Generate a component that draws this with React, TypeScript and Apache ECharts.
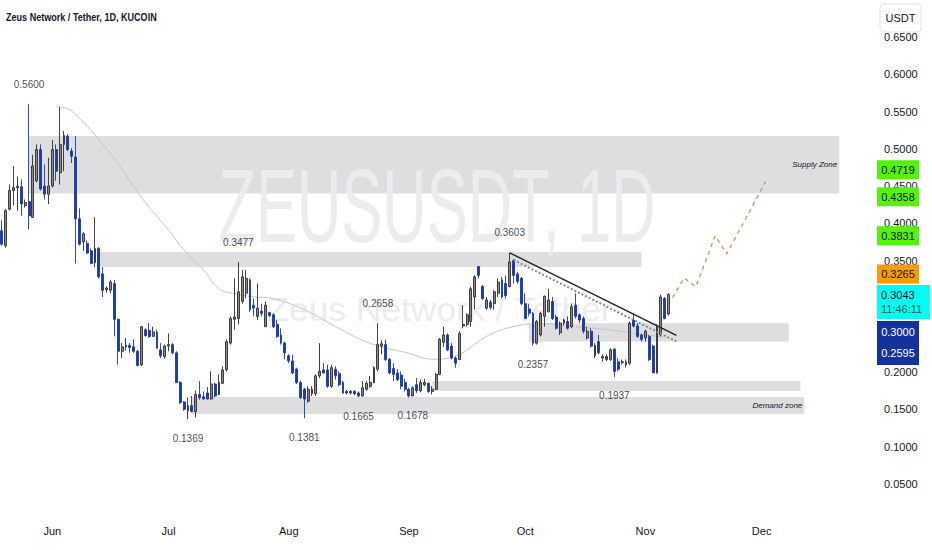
import React, { useEffect, useRef } from 'react';
import * as echarts from 'echarts';

// ---- categories (daily, 2024-05-19 .. ) ----
const START_UTC = Date.UTC(2024, 4, 19);
const DAY_COUNT = 226;
const MONTH_NAMES = ['Jan', 'Feb', 'Mar', 'Apr', 'May', 'Jun', 'Jul', 'Aug', 'Sep', 'Oct', 'Nov', 'Dec'];
const dates: string[] = [];
for (let i = 0; i < DAY_COUNT; i++) dates.push(new Date(START_UTC + i * 86400000).toISOString().slice(0, 10));

// ---- OHLC ----
const opens = [
  0.390, 0.370, 0.419, 0.444, 0.448, 0.449, 0.424, 0.429, 0.408, 0.457,
  0.499, 0.450, 0.439, 0.450, 0.499, 0.468, 0.506, 0.517, 0.497, 0.489,
  0.406, 0.375, 0.373, 0.363, 0.347, 0.366, 0.332, 0.311, 0.310, 0.319,
  0.271, 0.228, 0.234, 0.236, 0.234, 0.228, 0.210, 0.257, 0.256, 0.248,
  0.254, 0.230, 0.221, 0.235, 0.237, 0.226, 0.186, 0.160, 0.148, 0.155,
  0.147, 0.170, 0.167, 0.172, 0.164, 0.184, 0.170, 0.185, 0.203, 0.239,
  0.271, 0.272, 0.295, 0.306, 0.324, 0.290, 0.275, 0.282, 0.261, 0.280,
  0.277, 0.264, 0.250, 0.239, 0.222, 0.215, 0.204, 0.186, 0.177, 0.161,
  0.171, 0.171, 0.195, 0.203, 0.203, 0.181, 0.204, 0.198, 0.186, 0.174,
  0.172, 0.174, 0.172, 0.168, 0.177, 0.181, 0.186, 0.204, 0.235, 0.237,
  0.217, 0.205, 0.199, 0.196, 0.186, 0.177, 0.168, 0.183, 0.175, 0.183,
  0.185, 0.174, 0.177, 0.197, 0.240, 0.250, 0.235, 0.219, 0.217, 0.262,
  0.264, 0.268, 0.301, 0.342, 0.315, 0.286, 0.294, 0.292, 0.306, 0.324,
  0.319, 0.315, 0.350, 0.332, 0.326, 0.292, 0.285, 0.279, 0.239, 0.250,
  0.275, 0.281, 0.295, 0.274, 0.253, 0.266, 0.268, 0.261, 0.290, 0.277,
  0.272, 0.246, 0.255, 0.222, 0.241, 0.219, 0.221, 0.217, 0.231, 0.214,
  0.213, 0.214, 0.212, 0.270, 0.262, 0.250, 0.246, 0.248, 0.235, 0.199,
  0.250, 0.299, 0.278,
];
const closes = [
  0.372, 0.417, 0.444, 0.448, 0.450, 0.426, 0.428, 0.410, 0.477, 0.499,
  0.446, 0.439, 0.450, 0.499, 0.470, 0.506, 0.518, 0.499, 0.490, 0.406,
  0.372, 0.386, 0.360, 0.346, 0.366, 0.328, 0.310, 0.313, 0.321, 0.271,
  0.228, 0.234, 0.236, 0.233, 0.228, 0.209, 0.261, 0.249, 0.248, 0.254,
  0.232, 0.222, 0.235, 0.237, 0.226, 0.186, 0.159, 0.150, 0.155, 0.147,
  0.170, 0.166, 0.164, 0.164, 0.184, 0.168, 0.186, 0.203, 0.241, 0.272,
  0.274, 0.308, 0.328, 0.326, 0.284, 0.286, 0.286, 0.279, 0.290, 0.276,
  0.261, 0.248, 0.239, 0.226, 0.215, 0.199, 0.186, 0.166, 0.164, 0.177,
  0.177, 0.195, 0.201, 0.199, 0.181, 0.206, 0.195, 0.183, 0.172, 0.172,
  0.174, 0.171, 0.168, 0.179, 0.185, 0.186, 0.206, 0.237, 0.238, 0.217,
  0.199, 0.197, 0.190, 0.181, 0.177, 0.168, 0.179, 0.175, 0.186, 0.186,
  0.174, 0.177, 0.197, 0.244, 0.250, 0.230, 0.219, 0.212, 0.252, 0.264,
  0.277, 0.312, 0.328, 0.330, 0.299, 0.297, 0.287, 0.308, 0.321, 0.301,
  0.303, 0.348, 0.330, 0.322, 0.292, 0.272, 0.279, 0.239, 0.268, 0.279,
  0.302, 0.297, 0.272, 0.259, 0.266, 0.270, 0.259, 0.288, 0.275, 0.270,
  0.255, 0.255, 0.235, 0.236, 0.226, 0.221, 0.217, 0.230, 0.201, 0.204,
  0.214, 0.210, 0.266, 0.262, 0.248, 0.244, 0.255, 0.217, 0.199, 0.261,
  0.301, 0.272, 0.3043,
];
const lows = [
  0.370, 0.367, 0.417, 0.424, 0.417, 0.410, 0.421, 0.392, 0.407, 0.455,
  0.444, 0.432, 0.426, 0.448, 0.457, 0.452, 0.470, 0.497, 0.481, 0.346,
  0.370, 0.363, 0.359, 0.345, 0.341, 0.326, 0.301, 0.307, 0.306, 0.248,
  0.210, 0.219, 0.229, 0.226, 0.226, 0.208, 0.208, 0.248, 0.246, 0.248,
  0.232, 0.219, 0.218, 0.228, 0.224, 0.186, 0.157, 0.148, 0.1369, 0.146,
  0.139, 0.163, 0.163, 0.163, 0.163, 0.166, 0.169, 0.184, 0.201, 0.237,
  0.257, 0.264, 0.292, 0.299, 0.281, 0.275, 0.270, 0.275, 0.261, 0.274,
  0.259, 0.246, 0.237, 0.217, 0.212, 0.197, 0.184, 0.164, 0.1381, 0.159,
  0.168, 0.168, 0.192, 0.198, 0.179, 0.179, 0.190, 0.181, 0.171, 0.170,
  0.170, 0.169, 0.1665, 0.167, 0.175, 0.179, 0.185, 0.201, 0.224, 0.215,
  0.197, 0.188, 0.188, 0.177, 0.174, 0.166, 0.1678, 0.172, 0.173, 0.181,
  0.172, 0.170, 0.176, 0.196, 0.234, 0.228, 0.217, 0.206, 0.216, 0.259,
  0.261, 0.261, 0.284, 0.326, 0.297, 0.284, 0.284, 0.284, 0.301, 0.299,
  0.299, 0.314, 0.319, 0.319, 0.290, 0.272, 0.275, 0.2357, 0.237, 0.248,
  0.261, 0.281, 0.270, 0.257, 0.250, 0.263, 0.257, 0.259, 0.272, 0.266,
  0.252, 0.244, 0.233, 0.219, 0.224, 0.214, 0.215, 0.215, 0.1937, 0.201,
  0.210, 0.206, 0.210, 0.260, 0.246, 0.241, 0.241, 0.215, 0.199, 0.198,
  0.248, 0.271, 0.276,
];
const highs = [
  0.404, 0.419, 0.452, 0.477, 0.463, 0.459, 0.432, 0.560, 0.492, 0.506,
  0.506, 0.479, 0.488, 0.512, 0.506, 0.556, 0.524, 0.520, 0.501, 0.517,
  0.420, 0.388, 0.377, 0.366, 0.408, 0.368, 0.341, 0.315, 0.324, 0.324,
  0.272, 0.239, 0.246, 0.239, 0.244, 0.230, 0.262, 0.259, 0.266, 0.261,
  0.257, 0.239, 0.237, 0.252, 0.239, 0.228, 0.188, 0.161, 0.166, 0.168,
  0.175, 0.188, 0.174, 0.180, 0.201, 0.186, 0.197, 0.208, 0.244, 0.275,
  0.326, 0.3477, 0.337, 0.337, 0.326, 0.299, 0.319, 0.292, 0.295, 0.281,
  0.279, 0.270, 0.259, 0.241, 0.224, 0.223, 0.206, 0.188, 0.179, 0.181,
  0.181, 0.197, 0.239, 0.212, 0.210, 0.210, 0.208, 0.201, 0.188, 0.176,
  0.176, 0.176, 0.174, 0.188, 0.188, 0.195, 0.208, 0.2658, 0.243, 0.244,
  0.219, 0.212, 0.204, 0.201, 0.191, 0.179, 0.181, 0.192, 0.190, 0.191,
  0.186, 0.181, 0.199, 0.246, 0.261, 0.252, 0.239, 0.221, 0.255, 0.290,
  0.279, 0.315, 0.330, 0.342, 0.317, 0.301, 0.297, 0.310, 0.326, 0.328,
  0.330, 0.3603, 0.352, 0.335, 0.328, 0.306, 0.292, 0.281, 0.270, 0.281,
  0.303, 0.312, 0.301, 0.277, 0.268, 0.272, 0.275, 0.292, 0.306, 0.279,
  0.275, 0.261, 0.259, 0.239, 0.250, 0.224, 0.224, 0.232, 0.232, 0.219,
  0.217, 0.217, 0.268, 0.279, 0.266, 0.252, 0.257, 0.250, 0.237, 0.264,
  0.304, 0.301, 0.306,
];

const maIdx = [14, 18, 28, 36, 43, 47, 52, 56, 60, 65, 70, 78, 86, 95, 105, 111, 117, 125, 132, 140, 147, 156, 165, 172];
const maVal = [0.5573, 0.5507, 0.4933, 0.4347, 0.3907, 0.364, 0.3373, 0.312, 0.3053, 0.3013, 0.2987, 0.284, 0.2613, 0.2387, 0.2253, 0.2173, 0.2213, 0.248, 0.2613, 0.2653, 0.2613, 0.2573, 0.2507, 0.2467];

// ---- zones ----
const zoneFrom = [7, 25, 136, 111, 49];
const zoneTo = [216, 165, 203, 206, 207];
const zoneLow = [0.44, 0.3413, 0.2413, 0.1747, 0.1436];
const zoneHigh = [0.5173, 0.3613, 0.2657, 0.188, 0.1667];
const zoneLabels = ['Supply Zone', '', '', '', 'Demand zone'];

// ---- swing annotations ----
const peakIdx = [7, 61, 97, 131];
const peakVal = [0.56, 0.3477, 0.2658, 0.3603];
const troughIdx = [48, 78, 92, 106, 137, 158];
const troughVal = [0.1369, 0.1381, 0.1665, 0.1678, 0.2357, 0.1937];

// ---- drawn lines ----
const trendIdx = [131, 174];
const trendVal = [0.3603, 0.2493];
const channelIdx = [132, 174];
const channelVal = [0.3507, 0.2413];
const forecastIdx = [173, 176, 179, 184, 187, 197];
const forecastVal = [0.300, 0.3265, 0.3147, 0.3831, 0.359, 0.4557];

// ---- price scale tags ----
const greenTags = ['0.4719', '0.4358', '0.3831'];
const orangeTag = '0.3265';
const lastPrice = '0.3043';
const countdown = '11:46:11';
const blueTags = ['0.3000', '0.2595'];
// axis tick labels covered by the price tags on the scale
const hiddenTicks = ['0.3000', '0.2500'];

const FONT = 'Liberation Sans';
const TEXT = '#131722';

function measure(text: string, font: string): number {
  const c = document.createElement('canvas').getContext('2d');
  if (!c) return text.length * 6;
  c.font = font;
  return c.measureText(text).width;
}

export default function App() {
  const ref = useRef<HTMLDivElement>(null);
  useEffect(() => {
    if (!ref.current) return;
    const chart = echarts.init(ref.current, null, { renderer: 'svg' });
    const candles = opens.map((o, i) => [o, closes[i], lows[i], highs[i]]);
    const zoneData = zoneFrom.map((f, i) => [f, zoneTo[i], zoneLow[i], zoneHigh[i]]);
    const lastIdx = forecastIdx.length - 1;
    const option: any = {
      animation: false,
      backgroundColor: '#ffffff',
      grid: { left: 0, right: 56, top: -4, bottom: 29, containLabel: false },
      xAxis: {
        type: 'category',
        data: dates,
        boundaryGap: true,
        axisLine: { show: false },
        axisTick: { show: false },
        splitLine: { show: false },
        axisLabel: {
          interval: (_i: number, v: string) => v.slice(8) === '01',
          formatter: (v: string) => MONTH_NAMES[parseInt(v.slice(5, 7), 10) - 1],
          color: TEXT,
          fontSize: 11,
          fontFamily: FONT,
          margin: 4,
        },
      },
      yAxis: {
        type: 'value',
        position: 'right',
        min: 0,
        max: 0.7,
        interval: 0.05,
        axisLine: { show: false },
        axisTick: { show: false },
        splitLine: { show: false },
        axisLabel: {
          formatter: (v: number) => {
            const s = v.toFixed(4);
            if (v < 0.01 || v > 0.69 || hiddenTicks.indexOf(s) >= 0) return '';
            return s;
          },
          color: TEXT,
          fontSize: 11,
          fontFamily: FONT,
          margin: 8,
        },
      },
      series: [
        {
          type: 'custom',
          z: 1,
          silent: true,
          data: zoneData,
          encode: { x: [0, 1], y: [2, 3] },
          renderItem: (params: any, api: any) => {
            const a = api.coord([api.value(0), api.value(3)]);
            const b = api.coord([api.value(1), api.value(2)]);
            const children: any[] = [
              { type: 'rect', shape: { x: a[0], y: a[1], width: b[0] - a[0], height: b[1] - a[1] }, style: { fill: '#dedee1' } },
            ];
            const lab = zoneLabels[params.dataIndex];
            if (lab) {
              children.push({
                type: 'text',
                x: b[0] - 2,
                y: (a[1] + b[1]) / 2,
                style: { text: lab, fill: TEXT, fontSize: 8, fontStyle: 'italic', fontFamily: FONT, align: 'right', verticalAlign: 'middle' },
              });
            }
            return { type: 'group', children };
          },
        },
        {
          type: 'line',
          z: 3,
          data: maIdx.map((x, k) => [x, maVal[k]]),
          smooth: 0.4,
          symbol: 'none',
          silent: true,
          lineStyle: { color: '#c6c6c9', width: 1 },
        },
        {
          type: 'candlestick',
          z: 4,
          data: candles,
          barWidth: 2.4,
          itemStyle: {
            color: '#8c8c8c',
            color0: '#1b3aa6',
            borderColor: '#2d2d2d',
            borderColor0: '#1b3aa6',
            borderWidth: 0.9,
          },
        },
        {
          type: 'line',
          z: 5,
          data: channelIdx.map((x, k) => [x, channelVal[k]]),
          symbol: 'none',
          silent: true,
          lineStyle: { color: '#8a8a8a', width: 2, type: 'dotted' },
        },
        {
          type: 'line',
          z: 5,
          data: trendIdx.map((x, k) => [x, trendVal[k]]),
          symbol: 'none',
          silent: true,
          lineStyle: { color: '#222222', width: 1.4 },
        },
        {
          type: 'line',
          z: 5,
          data: forecastIdx.map((x, k) =>
            k === lastIdx
              ? { value: [x, forecastVal[k]], symbol: 'arrow', symbolSize: [5, 6], symbolRotate: -27, itemStyle: { color: '#c98a4e' } }
              : { value: [x, forecastVal[k]], symbol: 'none' }
          ),
          showSymbol: true,
          silent: true,
          lineStyle: { color: '#c98a4e', width: 1.2, type: [4, 4] },
        },
        {
          type: 'scatter',
          z: 6,
          silent: true,
          symbolSize: 0,
          data: peakIdx.map((x, k) => [x, peakVal[k]]),
          label: {
            show: true,
            position: 'top',
            distance: 15,
            formatter: (p: any) => p.value[1].toFixed(4),
            color: TEXT,
            fontSize: 10,
            fontFamily: FONT,
          },
        },
        {
          type: 'scatter',
          z: 6,
          silent: true,
          symbolSize: 0,
          data: troughIdx.map((x, k) => [x, troughVal[k]]),
          label: {
            show: true,
            position: 'bottom',
            distance: 14,
            formatter: (p: any) => p.value[1].toFixed(4),
            color: TEXT,
            fontSize: 10,
            fontFamily: FONT,
          },
        },
      ],
    };
    chart.setOption(option);

    const py = (v: number) => chart.convertToPixel({ yAxisIndex: 0 }, v) as number;
    const bigFont = `104px "${FONT}"`;
    const smallFont = `33px "${FONT}"`;
    const titleFont = `600 11px "${FONT}"`;
    const title = 'Zeus Network / Tether, 1D, KUCOIN';
    const gfx: any[] = [
      {
        type: 'text', z: 2, silent: true, x: 437, y: 206,
        scaleX: 437 / measure('ZEUSUSDT, 1D', bigFont),
        style: { text: 'ZEUSUSDT, 1D', fontSize: 104, fontFamily: FONT, fill: '#ececef', align: 'center', verticalAlign: 'middle' },
      },
      {
        type: 'text', z: 2, silent: true, x: 440, y: 309,
        scaleX: 346 / measure('Zeus Network / Tether', smallFont),
        style: { text: 'Zeus Network / Tether', fontSize: 33, fontFamily: FONT, fill: '#ececef', align: 'center', verticalAlign: 'middle' },
      },
      {
        type: 'text', z: 10, silent: true, x: 6, y: 17,
        scaleX: 151 / measure(title, titleFont),
        style: { text: title, fontSize: 11, fontWeight: 600, fontFamily: FONT, fill: TEXT, align: 'left', verticalAlign: 'middle' },
      },
      {
        type: 'rect', z: 10, silent: true,
        shape: { x: 880, y: 4, width: 41, height: 28, r: 4 },
        style: { fill: '#ffffff', stroke: '#e0e3eb', lineWidth: 1 },
      },
      {
        type: 'text', z: 11, silent: true, x: 900.5, y: 18,
        style: { text: 'USDT', fontSize: 11, fontFamily: FONT, fill: TEXT, align: 'center', verticalAlign: 'middle' },
      },
    ];
    greenTags.forEach((t) => {
      const y = py(parseFloat(t));
      gfx.push({ type: 'rect', z: 10, silent: true, shape: { x: 877, y: y - 9.5, width: 42, height: 19 }, style: { fill: '#55f20e' } });
      gfx.push({ type: 'text', z: 11, silent: true, x: 898, y, style: { text: t, fontSize: 11, fontFamily: FONT, fill: TEXT, align: 'center', verticalAlign: 'middle' } });
    });
    const cyanTop = py(parseFloat(lastPrice)) - 9.5;
    const orangeY = Math.min(py(parseFloat(orangeTag)), cyanTop - 11);
    gfx.push({ type: 'rect', z: 10, silent: true, shape: { x: 877, y: orangeY - 9.5, width: 42, height: 19 }, style: { fill: '#ff9a00' } });
    gfx.push({ type: 'text', z: 11, silent: true, x: 898, y: orangeY, style: { text: orangeTag, fontSize: 11, fontFamily: FONT, fill: TEXT, align: 'center', verticalAlign: 'middle' } });
    gfx.push({ type: 'rect', z: 10, silent: true, shape: { x: 877, y: cyanTop, width: 53, height: 34 }, style: { fill: '#00fff2' } });
    gfx.push({ type: 'text', z: 11, silent: true, x: 881, y: cyanTop + 9.5, style: { text: lastPrice, fontSize: 11, fontFamily: FONT, fill: TEXT, align: 'left', verticalAlign: 'middle' } });
    gfx.push({ type: 'text', z: 11, silent: true, x: 881, y: cyanTop + 24, style: { text: countdown, fontSize: 11, fontFamily: FONT, fill: '#0c5e52', align: 'left', verticalAlign: 'middle' } });
    const blueTop = cyanTop + 36;
    gfx.push({ type: 'rect', z: 10, silent: true, shape: { x: 877, y: blueTop, width: 42, height: 44 }, style: { fill: '#15329a' } });
    blueTags.forEach((t, k) => {
      gfx.push({ type: 'text', z: 11, silent: true, x: 898, y: blueTop + 11 + k * 21, style: { text: t, fontSize: 11, fontFamily: FONT, fill: '#ffffff', align: 'center', verticalAlign: 'middle' } });
    });
    chart.setOption({ graphic: gfx });

    return () => chart.dispose();
  }, []);
  return <div ref={ref} style={{ position: 'fixed', left: 0, top: 0, width: 932, height: 550, background: '#ffffff' }} />;
}
